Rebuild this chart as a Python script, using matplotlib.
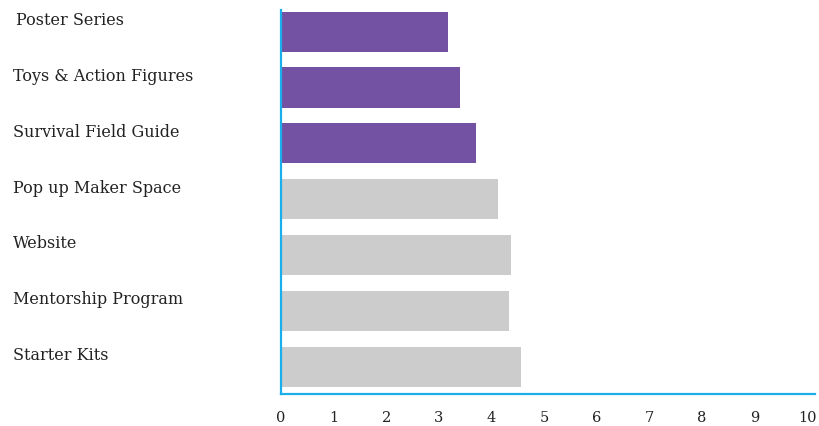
import matplotlib.pyplot as plt
import matplotlib.transforms as mtransforms

categories = ['Poster Series', 'Toys & Action Figures', 'Survival Field Guide',
              'Pop up Maker Space', 'Website', 'Mentorship Program', 'Starter Kits']
scores = [3.17, 3.40, 3.70, 4.12, 4.37, 4.33, 4.56]
highlighted = [True, True, True, False, False, False, False]
x_ticks = list(range(0, 11))

purple = '#7352a3'
grey = '#cccccc'
axis_blue = '#1aaeea'

plt.rcParams['font.family'] = ['DejaVu Serif']

fig = plt.figure(figsize=(8.19, 4.26), dpi=100)
ax = fig.add_axes([281 / 819, 1 - 394 / 426, (815 - 281) / 819, (394 - 10) / 426])

ypos = list(range(len(categories)))
colors = [purple if h else grey for h in highlighted]
ax.barh(ypos, scores, height=0.72, color=colors, zorder=2)

ax.set_xlim(0, 10.15)
ax.set_ylim(6.49, -0.39)

ax.set_xticks(x_ticks)
ax.set_xticklabels([str(t) for t in x_ticks], fontsize=10.5, color='#222222')
ax.tick_params(axis='x', length=0, pad=12)
ax.set_yticks([])

for side in ['top', 'right']:
    ax.spines[side].set_visible(False)
for side in ['left', 'bottom']:
    ax.spines[side].set_color(axis_blue)
    ax.spines[side].set_linewidth(1.6)

# category names sit to the left, a little above each bar's middle
trans = mtransforms.blended_transform_factory(fig.transFigure, ax.transData)
for i, name in enumerate(categories):
    xo = 16 / 819 if i == 0 else 13 / 819
    ax.text(xo, i - 0.2, name, transform=trans, ha='left', va='center',
            fontsize=11.5, color='#222222')

fig.savefig('out.png', dpi=100)
